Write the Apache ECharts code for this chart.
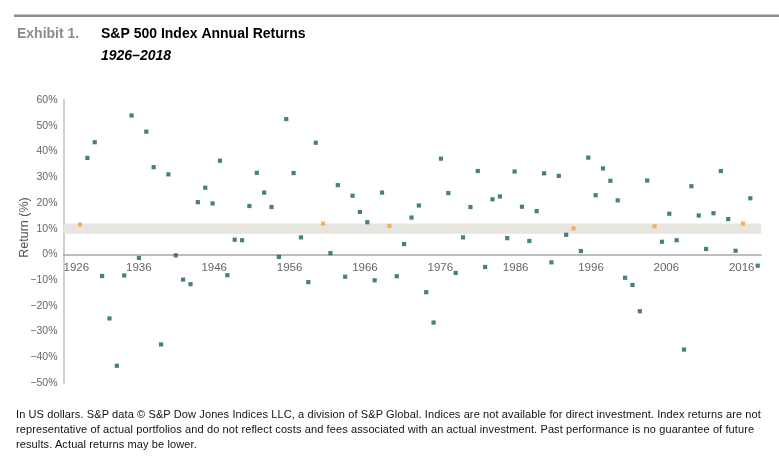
<!DOCTYPE html>
<html><head><meta charset="utf-8">
<script src="https://cdn.jsdelivr.net/npm/echarts@6/dist/echarts.min.js"></script>
<style>
html,body{margin:0;padding:0;background:#fff;}
#wrap{position:relative;width:779px;height:464px;overflow:hidden;}
#chart{position:absolute;left:0;top:0;width:779px;height:464px;}
#note{position:absolute;left:16px;top:407px;font-family:'Liberation Sans',Arial,sans-serif;font-size:11px;line-height:15px;color:#111;white-space:nowrap;}
#note div{display:block;}
</style></head><body>
<div id="wrap"><div id="chart"></div>
<div id="note"><div><span id="l1">In US dollars. S&amp;P data © S&amp;P Dow Jones Indices LLC, a division of S&amp;P Global. Indices are not available for direct investment. Index returns are not</span></div><div><span>representative of actual portfolios and do not reflect costs and fees associated with an actual investment. Past performance is no guarantee of future</span></div><div><span>results. Actual returns may be lower.</span></div></div>
</div>
<script>
const firstYear = 1926;
const returns = [11.6, 37.5, 43.6, -8.4, -24.9, -43.3, -8.2, 54.0, -1.4, 47.7,
 33.9, -35.0, 31.1, -0.4, -9.8, -11.6, 20.3, 25.9, 19.8, 36.4,
 -8.1, 5.7, 5.5, 18.8, 31.7, 24.0, 18.4, -1.0, 52.6, 31.6,
 6.6, -10.8, 43.4, 12.0, 0.5, 26.9, -8.7, 22.8, 16.5, 12.5,
 -10.1, 24.0, 11.1, -8.5, 4.0, 14.3, 19.0, -14.7, -26.5, 37.2,
 23.8, -7.2, 6.6, 18.4, 32.4, -4.9, 21.4, 22.5, 6.3, 32.2,
 18.5, 5.2, 16.8, 31.5, -3.1, 30.5, 7.6, 10.1, 1.3, 37.6,
 23.0, 33.4, 28.6, 21.0, -9.1, -11.9, -22.1, 28.7, 10.9, 4.9,
 15.8, 5.5, -37.0, 26.5, 15.1, 2.1, 16.0, 32.4, 13.7, 1.4,
 12.0, 21.8, -4.4];
const band = [8, 12];
const yTicks = { min: -50, max: 60, step: 10 };
const xTicks = { first: 1926, step: 10 };

const inBand = [], outBand = [];
returns.forEach((v, i) => {
  const p = [firstYear + i, v];
  if (v >= band[0] && v <= band[1]) inBand.push(p); else outBand.push(p);
});

const NARROW = '"Liberation Sans Narrow","Arial Narrow","Liberation Sans",Arial,sans-serif';
const SANS = '"Liberation Sans",Arial,sans-serif';

const GRID = {left: 63.5, right: 18, top: 100, bottom: 81};
const plotH = 464 - GRID.top - GRID.bottom;
const zeroShift = plotH * (0 - yTicks.min) / (yTicks.max - yTicks.min);

const chart = echarts.init(document.getElementById('chart'), null, {renderer: 'canvas'});
chart.setOption({
  animation: false,
  grid: GRID,
  xAxis: [{
    type: 'value', min: 1926, max: 2018.56, interval: xTicks.step,
    position: 'bottom', offset: -zeroShift,
    axisLine: {show: true, onZero: false, lineStyle: {color: '#a8a8a8', width: 1.5}},
    axisTick: {show: false}, splitLine: {show: false},
    axisLabel: {
      formatter: v => ((v - xTicks.first) % xTicks.step === 0 ? String(v) : ''),
      alignMinLabel: 'left', color: '#666', fontSize: 11.5, fontFamily: NARROW, margin: 7
    }
  }, {
    type: 'value', min: 1923.76, max: 2018.45, show: false
  }],
  yAxis: {
    type: 'value', min: yTicks.min, max: yTicks.max, interval: yTicks.step,
    axisLine: {show: true, onZero: false, lineStyle: {color: '#d0d0d0', width: 2}},
    axisTick: {show: false}, splitLine: {show: false},
    axisLabel: {
      formatter: v => (v < 0 ? '\u2212' + (-v) : v) + '%',
      color: '#666', fontSize: 10.5, fontFamily: NARROW, margin: 6
    }
  },
  series: [{
    type: 'scatter', xAxisIndex: 1, data: outBand, symbol: 'rect', symbolSize: 4.2,
    itemStyle: {color: '#1d5f63'}, z: 3,
    markArea: {silent: true, itemStyle: {color: '#e7e5e0'}, data: [[{yAxis: band[0]}, {yAxis: band[1]}]]}
  }, {
    type: 'scatter', xAxisIndex: 1, data: inBand, symbol: 'rect', symbolSize: 4.2,
    itemStyle: {color: '#f2a33a'}, z: 4
  }],
  graphic: [
    {type: 'rect', shape: {x: 14, y: 14.5, width: 765, height: 2.6}, style: {fill: '#8c8c8c'}},
    {type: 'text', x: 17, y: 34.2, style: {text: 'Exhibit 1.', fill: '#8c8c8c', font: 'bold 14px ' + SANS, verticalAlign: 'middle'}},
    {type: 'text', x: 101, y: 34.2, style: {text: 'S&P 500 Index Annual Returns', fill: '#000', font: 'bold 14px ' + SANS, verticalAlign: 'middle'}},
    {type: 'text', x: 101, y: 56.2, style: {text: '1926–2018', fill: '#000', font: 'italic bold 14px ' + SANS, verticalAlign: 'middle'}},
    {type: 'text', x: 25, y: 227.5, rotation: Math.PI / 2, style: {text: 'Return (%)', fill: '#555', font: '12.5px ' + SANS, align: 'center', verticalAlign: 'middle'}}
  ]
});

const l1 = document.getElementById('l1');
const w = l1.getBoundingClientRect().width;
const n = l1.textContent.length;
document.getElementById('note').style.letterSpacing = ((745 - w) / n) + 'px';
</script>
</body></html>
